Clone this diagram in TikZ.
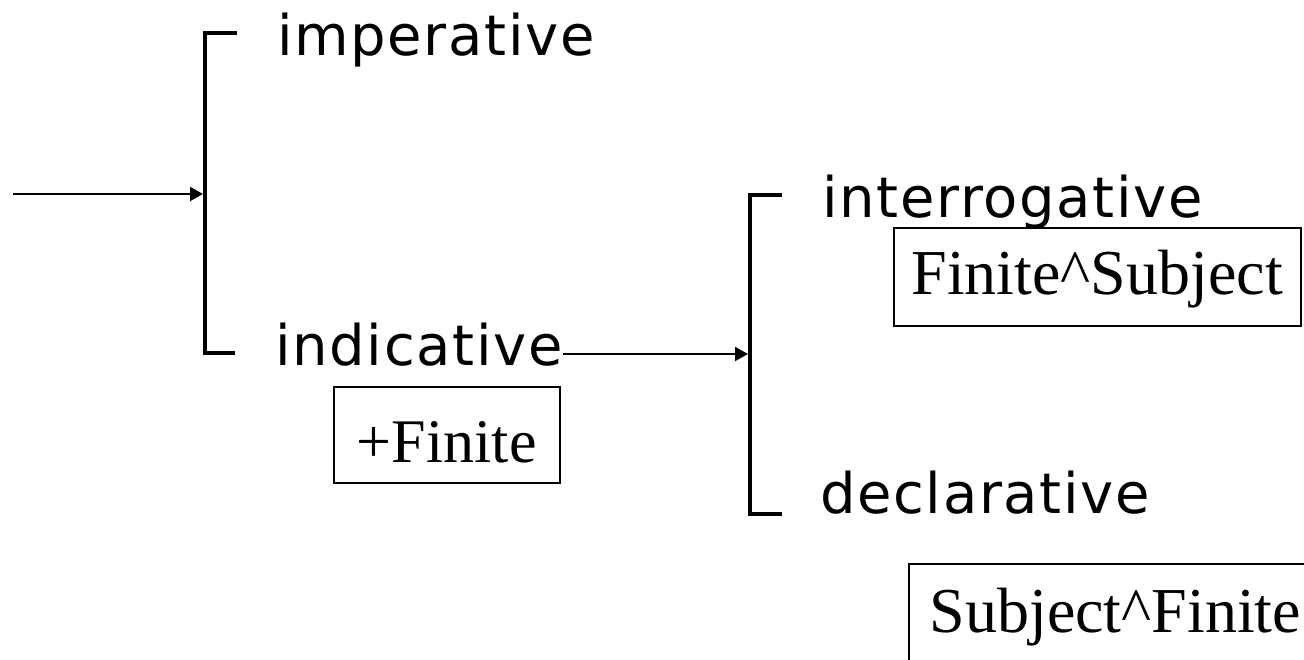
\documentclass[tikz,border=0pt]{standalone}
\usepackage{fontspec}
\setmainfont{Liberation Serif}
\newfontfamily\featurefont[LetterSpace=3]{DejaVu Sans}
\usetikzlibrary{arrows.meta}

\begin{document}
\begin{tikzpicture}[x=1pt,y=-1pt,
  feature/.style={font=\featurefont\fontsize{56}{64}\selectfont, inner sep=0pt, anchor=base west},
  realization/.style={draw, line width=1.5pt, font=\fontsize{64}{72}\selectfont, inner xsep=0pt, inner ysep=0pt},
  bracket/.style={line width=4.5pt, line join=miter, line cap=butt},
  entry/.style={line width=2pt, -{Triangle[length=13pt,width=14pt]}}]
\useasboundingbox (0,0) rectangle (1304,659);

% first system: MOOD TYPE
\coordinate (ltop)  at (237,33);
\coordinate (ltopc) at (205,33);
\coordinate (lbotc) at (205,353);
\coordinate (lbot)  at (235,353);
\coordinate (lmid)  at (203,194);
\coordinate (src)   at (13,194);
\draw[bracket] (ltop) -- (ltopc) -- (lbotc) -- (lbot);
\draw[entry] (src) -- (lmid);

\node[feature] (imperative) at (277,55)  {imperative};
\node[feature] (indicative) at (275,365) {indicative};

\node[realization, anchor=north west, minimum width=226pt, font=\fontsize{62}{70}\selectfont,
      text height=76pt, text depth=20pt] (plusfinite) at (333,386) {+Finite};

% second system: INDICATIVE TYPE
\coordinate (rtop)  at (782,195);
\coordinate (rtopc) at (750,195);
\coordinate (rbotc) at (750,514);
\coordinate (rbot)  at (782,514);
\coordinate (rmid)  at (748,354);
\draw[bracket] (rtop) -- (rtopc) -- (rbotc) -- (rbot);
\draw[entry] (indicative.east |- rmid) -- (rmid);

\node[feature] (interrogative) at (822,217) {interrogative};
\node[feature] (declarative)   at (820,513) {declarative};

\node[realization, anchor=north west, minimum width=407pt,
      text height=67pt, text depth=31pt] (finsubj) at (893,227) {Finite\^{}Subject};
\node[realization, anchor=north west, inner xsep=21pt, text width=420pt, align=left,
      text height=69pt, text depth=60pt] (subjfin) at (908,563) {Subject\^{}Finite};
\end{tikzpicture}
\end{document}
